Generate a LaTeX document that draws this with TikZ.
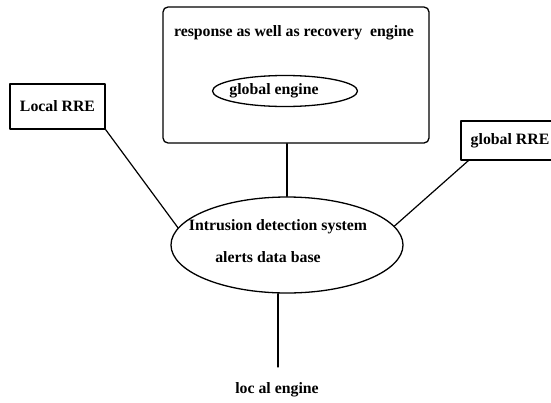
\documentclass[tikz,border=0pt]{standalone}
\usepackage{fontspec}
\setmainfont{Liberation Serif}
\usetikzlibrary{shapes.geometric}

\tikzset{
  lbl/.style={font=\fontsize{15.8}{18}\selectfont\bfseries, inner sep=0pt},
  box/.style={draw, line width=1.3pt, inner sep=0pt},
  oval/.style={draw, ellipse, line width=1.3pt, inner sep=0pt},
  link/.style={line width=1.2pt}
}

\begin{document}
\begin{tikzpicture}[x=1pt,y=-1pt,line cap=round,line join=round]
        \useasboundingbox[fill=white] (0,0) rectangle (551,402);

        % response and recovery engine
        \node[box, rounded corners=5pt, minimum width=266pt, minimum height=136pt] (rre) at (296,75) {};
        \node[lbl] (rretext) at (294,33) {response as well as recovery\ \ engine};
        \node[oval, minimum width=145pt, minimum height=31pt] (geng) at (285,91) {};
        \node[lbl] (gengtext) at (274,91) {global engine};

        % side boxes
        \node[box, minimum width=95pt, minimum height=45pt] (lrre) at (57.5,106.5) {};
        \node[lbl] (lrretext) at (57.5,106.5) {Local RRE};
        \node[box, minimum width=104pt, minimum height=39pt] (grre) at (513,140.5) {};
        \node[lbl] (grretext) at (510,140.5) {global RRE};

        % alerts data base
        \node[oval, minimum width=232pt, minimum height=96pt] (ids) at (287,245) {};
        \node[lbl] (idstext) at (278,227) {Intrusion detection system};
        \node[lbl] (adbtext) at (268,257) {alerts data\ base};

        \node[lbl] (leng) at (277,390) {loc al engine};
        \coordinate (lowend) at (278,367);

        \draw[link] (rre.south -| ids.north) -- (ids.north);
        \draw[link] (lrre.south east) -- (ids.171);
        \draw[link] (grre.south west) ++(8,0) coordinate (gfoot) -- (ids.10.7);
        \draw[link] (lowend |- ids.south) -- (lowend);
    \end{tikzpicture}
\end{document}
